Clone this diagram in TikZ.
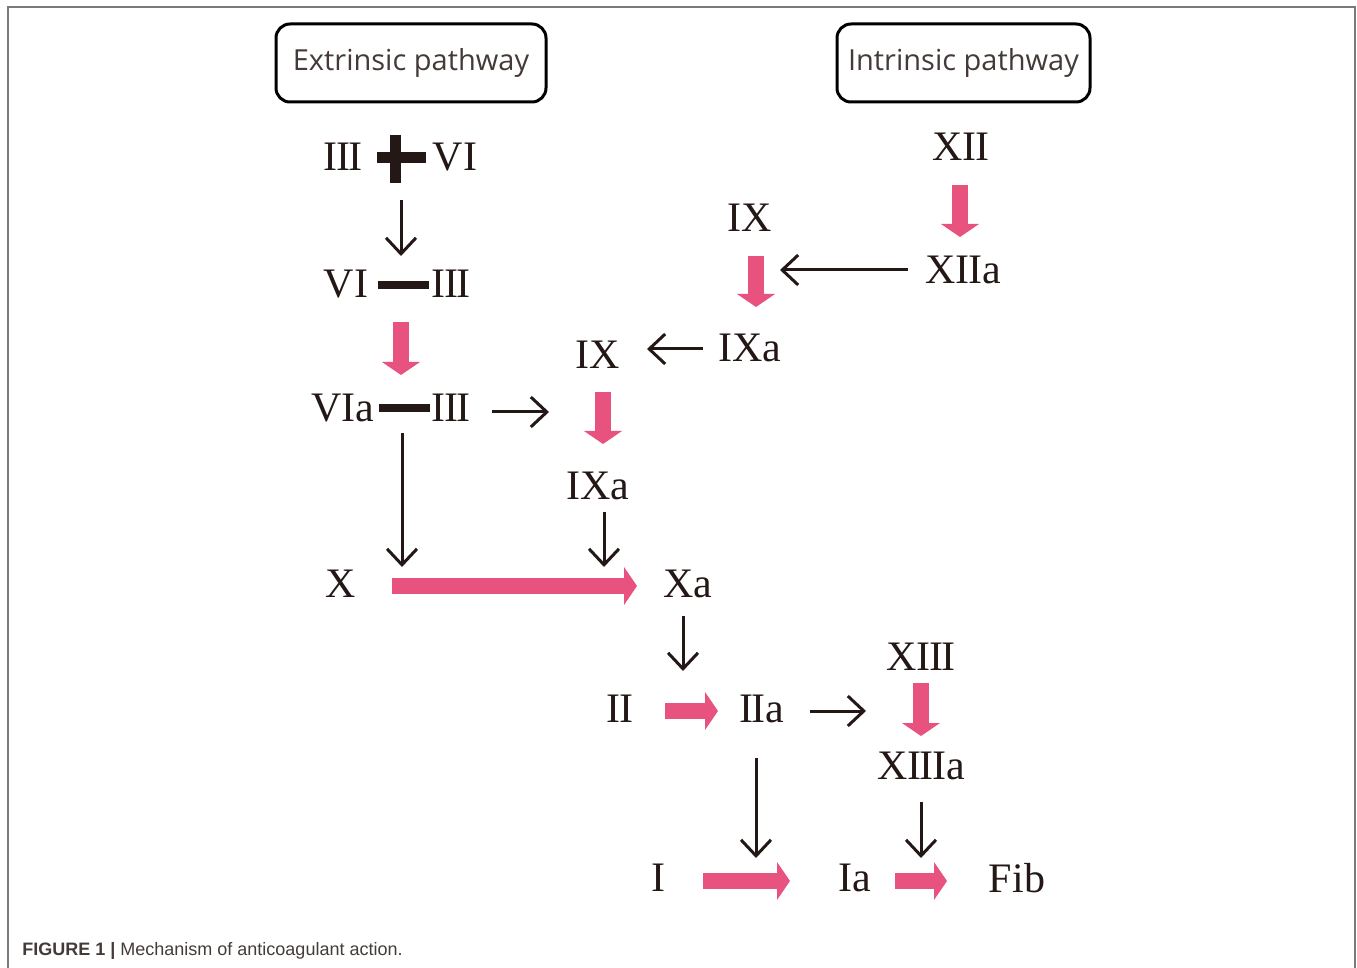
\documentclass[tikz,border=0pt]{standalone}
\usepackage{fontspec}
\setmainfont{Liberation Serif}
\newfontfamily\boxfont{Open Sans}
\newfontfamily\capfont{Liberation Sans}
\usetikzlibrary{arrows.meta,calc}
\definecolor{pinkc}{HTML}{E8527F}
\definecolor{ink}{HTML}{231815}
\definecolor{framec}{HTML}{7A7A7A}
\newcommand\kk{\kern-0.8pt}
\begin{document}
\begin{tikzpicture}[x=0.5pt,y=-0.5pt,
  lab/.style={font=\fontsize{21}{25}\selectfont, text=ink, inner sep=0pt},
  pathbox/.style={draw=black, line width=1.5pt, rounded corners=7pt, minimum height=39pt, font=\boxfont\fontsize{14.5}{17}\selectfont, text=ink!85, inner sep=0pt},
  barnode/.style={fill=ink, inner sep=0pt, minimum height=4pt, minimum width=25.5pt},
  thinarr/.style={draw=ink, line width=1.5pt, -{Straight Barb[length=8pt,width=15pt]}},
  pinkarr/.style={draw=pinkc, line width=8pt, -{Triangle[length=6.5pt,width=19pt,line width=0pt]}}]
\useasboundingbox (0,0) rectangle (1357,968);
% frame
\draw[framec, line width=1pt] (8,968) -- (8,7) -- (1355,7) -- (1355,968);
% boxes
\node[pathbox, minimum width=135pt] (ext) at (411,63) {Extrinsic pathway};
\node[pathbox, minimum width=126.5pt] (int) at (963.5,63) {Intrinsic pathway};
% extrinsic column
\node[lab] (r1III) at (343,157) {I\kk I\kk I};
\node[lab] (r1VI) at (455,157) {VI};
\node[fill=ink, inner sep=0pt, minimum width=24.5pt, minimum height=5.5pt] (plus) at (401,158) {};
\node[fill=ink, inner sep=0pt, minimum width=5.5pt, minimum height=24pt] (plusv) at (395,159) {};
\node[lab] (r2VI) at (346,284) {VI};
\node[barnode] (bar2) at (403,285) {};
\node[lab] (r2III) at (451,284) {I\kk I\kk I};
\node[lab] (r3VIa) at (343,408) {VIa};
\node[barnode] (bar3) at (404,408) {};
\node[lab] (r3III) at (451,408) {I\kk I\kk I};
% intrinsic column
\node[lab] (XII) at (961,147) {XI\kk I};
\node[lab] (XIIa) at (963,270) {XI\kk Ia};
\node[lab] (IXt) at (750,218) {IX};
\node[lab] (IXat) at (750,348) {IXa};
\node[lab] (IXb) at (598,355) {IX};
\node[lab] (IXab) at (598,486) {IXa};
% common
\node[lab] (X) at (341,584) {X};
\node[lab] (Xa) at (688,584) {Xa};
\node[lab] (II) at (620,709) {I\kk I};
\node[lab] (IIa) at (762,709) {I\kk Ia};
\node[lab] (XIII) at (921,657) {XI\kk I\kk I};
\node[lab] (XIIIa) at (921,766) {XI\kk I\kk Ia};
\node[lab] (I) at (658,878) {I};
\node[lab] (Ia) at (855,878) {Ia};
\node[lab] (Fib) at (1017,878) {Fib};
% thin arrows
\draw[thinarr] ($(plus)+(0,42)$) -- ($(plus |- bar2)+(0,-29)$);
\draw[thinarr] ($(r3III)+(41,4)$) -- ($(IXb |- r3III)+(-49,4)$);
\draw[thinarr] ($(bar3)+(-2,25)$) -- ($(bar3 |- X)+(-2,-17)$);
\draw[thinarr] ($(IXab)+(6,26)$) -- ($(IXab |- Xa)+(6,-17)$);
\draw[thinarr] ($(Xa)+(-5,32)$) -- ($(Xa |- II)+(-5,-38)$);
\draw[thinarr] ($(IIa)+(48,2)$) -- ($(XIII |- IIa)+(-55,2)$);
\draw[thinarr] ($(IIa)+(-6,49)$) -- ($(IIa |- Ia)+(-6,-20)$);
\draw[thinarr] ($(XIIIa)+(0,36)$) -- ($(XIIIa |- Ia)+(0,-20)$);
\draw[thinarr] ($(XIIa)+(-55,0)$) -- ($(IXt |- XIIa)+(30,0)$);
\draw[thinarr] ($(IXat)+(-47,1)$) -- ($(IXb |- IXat)+(49,1)$);
% pink arrows
\draw[pinkarr] ($(bar2)+(-2,37)$) -- ($(bar3)+(-3,-33)$);
\draw[pinkarr] ($(IXt)+(6,38)$) -- ($(IXat)+(6,-41)$);
\draw[pinkarr] ($(IXb)+(5,37)$) -- ($(IXab)+(5,-42)$);
\draw[pinkarr] ($(XII)+(-1,38)$) -- ($(XII |- XIIa)+(-1,-33)$);
\draw[pinkarr] ($(X)+(51,2)$) -- ($(Xa)+(-51,2)$);
\draw[pinkarr] ($(II)+(45,2)$) -- ($(IIa)+(-44,2)$);
\draw[pinkarr] ($(XIII)+(0,26)$) -- ($(XIIIa)+(0,-30)$);
\draw[pinkarr] ($(I)+(45,3)$) -- ($(Ia)+(-65,3)$);
\draw[pinkarr] ($(Ia)+(40,3)$) -- ($(Fib)+(-70,3)$);
% caption
\node[anchor=base west, font=\capfont\fontsize{9}{11}\selectfont, text=ink!85!white, inner sep=0pt] (cap) at (22,955) {\textbf{FIGURE 1 |} Mechanism of anticoagulant action.};
\end{tikzpicture}
\end{document}
